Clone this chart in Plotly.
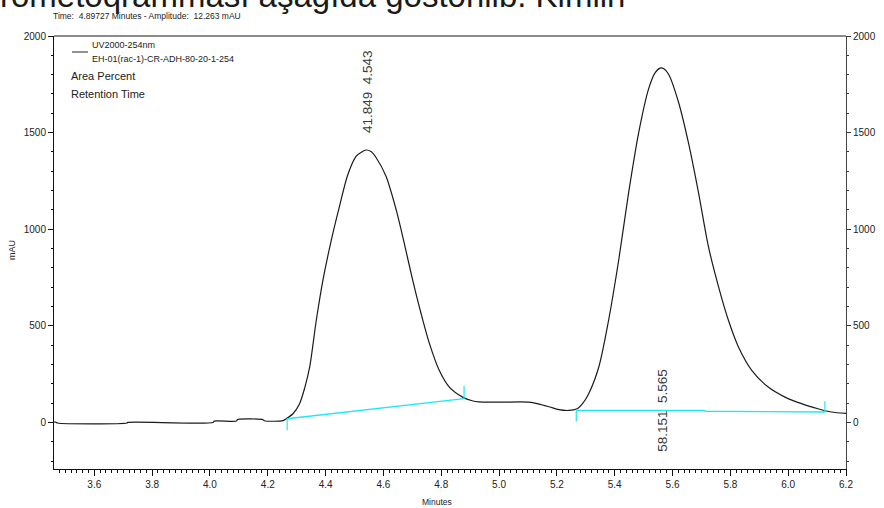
import plotly.graph_objects as go

# ---------------- data ----------------
time_min = [3.461, 3.466, 3.473, 3.713, 3.716, 4.011, 4.015, 4.092, 4.095, 4.184, 4.188, 4.253,
            4.264, 4.287, 4.310, 4.328, 4.345, 4.368, 4.391, 4.420, 4.448, 4.477, 4.506, 4.525,
            4.540, 4.557, 4.575, 4.609, 4.644, 4.672, 4.701, 4.730, 4.759, 4.793, 4.828, 4.874,
            4.907, 4.931, 5.000, 5.103, 5.138, 5.175, 5.207, 5.241, 5.270, 5.290, 5.310, 5.345,
            5.379, 5.414, 5.448, 5.483, 5.517, 5.540, 5.557, 5.570, 5.586, 5.621, 5.655, 5.690,
            5.724, 5.759, 5.793, 5.828, 5.874, 5.931, 5.989, 6.046, 6.103, 6.149, 6.200]
signal_mau = [2, 2, -3, -3, 0, 0, 7, 7, 15, 14, 9, 9,
              19, 45, 97, 180, 287, 530, 738, 945, 1118, 1283, 1378, 1400,
              1410, 1402, 1370, 1274, 1101, 928, 738, 565, 409, 270, 183, 131,
              112, 106, 105, 105, 95, 80, 66, 62, 71, 100, 149, 287,
              530, 842, 1188, 1500, 1725, 1810, 1834, 1830, 1803, 1656, 1448, 1188,
              911, 703, 530, 391, 270, 183, 131, 97, 71, 54, 47]

peak_rt = [4.543, 5.565]
peak_area_pct = [41.849, 58.151]
peak_label_y = [1715, 62]

baseline1_x = [4.267, 4.879]
baseline1_y = [19, 123]
baseline2_x = [5.267, 5.710, 5.713, 6.127]
baseline2_y = [62, 62, 58, 54]

x_ticks = [3.6, 3.8, 4.0, 4.2, 4.4, 4.6, 4.8, 5.0, 5.2, 5.4, 5.6, 5.8, 6.0, 6.2]
y_ticks = [0, 500, 1000, 1500, 2000]

x_range = [3.4606, 6.2]
y_range = [-241, 2000]

# ---------------- layout helpers (pixel -> paper) ----------------
W, H = 884, 508
L, R, T, B = 54, 38, 36, 39
PW, PH = W - L - R, H - T - B


def px(xp):
    return (xp - L) / PW


def py(yp):
    return (H - B - yp) / PH


NARROW = "Liberation Sans Narrow, Arial Narrow, Liberation Sans, sans-serif"
SANS = "Liberation Sans, Arial, sans-serif"
CYAN = "#1fe8f2"

fig = go.Figure()

fig.add_trace(go.Scatter(x=time_min, y=signal_mau, mode="lines",
                         line=dict(color="#1b1b1b", width=1.2, shape="spline", smoothing=0.8),
                         hoverinfo="skip"))

# integration baselines
fig.add_trace(go.Scatter(x=baseline1_x, y=baseline1_y, mode="lines",
                         line=dict(color=CYAN, width=1.3), hoverinfo="skip"))
fig.add_trace(go.Scatter(x=baseline2_x, y=baseline2_y, mode="lines",
                         line=dict(color=CYAN, width=1.3), hoverinfo="skip"))
# start / end markers of the baselines
fig.add_trace(go.Scatter(x=[baseline1_x[0], baseline1_x[0], None, baseline1_x[-1], baseline1_x[-1], None,
                            baseline2_x[0], baseline2_x[0], None, baseline2_x[-1], baseline2_x[-1]],
                         y=[baseline1_y[0], baseline1_y[0] - 60, None, baseline1_y[-1], baseline1_y[-1] + 65, None,
                            baseline2_y[0], baseline2_y[0] - 57, None, baseline2_y[-1], baseline2_y[-1] + 56],
                         mode="lines", line=dict(color=CYAN, width=1.2), hoverinfo="skip"))

# invisible trace for the right axis
fig.add_trace(go.Scatter(x=[time_min[0]], y=[signal_mau[0]], yaxis="y2", mode="lines",
                         line=dict(width=0), opacity=0, hoverinfo="skip"))

tickfont = dict(family=NARROW, size=10, color="#222")

fig.update_layout(
    template="none",
    width=W, height=H,
    margin=dict(l=L, r=R, t=T, b=B, pad=0, autoexpand=False),
    paper_bgcolor="white", plot_bgcolor="white",
    showlegend=False,
    xaxis=dict(range=x_range, tickvals=x_ticks, tickformat=".1f", ticks="outside",
               ticklen=6, tickcolor="#111", tickwidth=1, automargin=False,
               minor=dict(dtick=0.02, tick0=3.6, ticks="outside", ticklen=3, tickcolor="#111",
                          showgrid=False),
               showline=True, linecolor="#111", linewidth=1, showgrid=False, zeroline=False,
               tickfont=tickfont),
    yaxis=dict(range=y_range, tickvals=y_ticks, ticks="outside", ticklen=5, tickcolor="#111",
               automargin=False,
               minor=dict(dtick=100, tick0=0, ticks="outside", ticklen=2, tickcolor="#111",
                          showgrid=False),
               showline=True, linecolor="#111", linewidth=1, showgrid=False, zeroline=False,
               tickfont=tickfont),
    yaxis2=dict(range=y_range, tickvals=y_ticks, overlaying="y", side="right", ticks="outside",
                ticklen=4, tickcolor="#333", automargin=False,
                minor=dict(dtick=100, tick0=0, ticks="outside", ticklen=2, tickcolor="#333",
                           showgrid=False),
                showline=True, linecolor="#444", linewidth=1, showgrid=False, zeroline=False,
                tickfont=tickfont),
)

# top frame line (grey, heavier)
fig.add_shape(type="line", xref="paper", yref="paper", x0=0, x1=1, y0=1, y1=1,
              line=dict(color="#8c8c8c", width=2))

ann = []
# cut-off page text above the chart
ann.append(dict(text="rometoqramması aşağıda göstərilib. Kimlin", x=px(-2), y=py(-4),
                xref="paper", yref="paper", xanchor="left", yanchor="middle", showarrow=False,
                font=dict(family=SANS, size=33, color="#1a1a1a")))
# header
ann.append(dict(text="Time:  4.89727 Minutes - Amplitude:  12.263 mAU", x=px(51), y=py(16),
                xref="paper", yref="paper", xanchor="left", yanchor="middle", showarrow=False,
                font=dict(family=NARROW, size=8.5, color="#222")))
# axis titles
ann.append(dict(text="mAU", x=px(12), y=py(250), xref="paper", yref="paper", textangle=-90,
                xanchor="center", yanchor="middle", showarrow=False,
                font=dict(family=NARROW, size=9, color="#222")))
ann.append(dict(text="Minutes", x=px(437), y=py(502), xref="paper", yref="paper",
                xanchor="center", yanchor="middle", showarrow=False,
                font=dict(family=NARROW, size=8.5, color="#222")))
# legend block
ann.append(dict(text="UV2000-254nm", x=px(90), y=py(45), xref="paper", yref="paper",
                xanchor="left", yanchor="middle", showarrow=False,
                font=dict(family=NARROW, size=9, color="#222")))
ann.append(dict(text="EH-01(rac-1)-CR-ADH-80-20-1-254", x=px(90), y=py(59), xref="paper", yref="paper",
                xanchor="left", yanchor="middle", showarrow=False,
                font=dict(family=NARROW, size=9, color="#222")))
ann.append(dict(text="Area Percent", x=px(69), y=py(76), xref="paper", yref="paper",
                xanchor="left", yanchor="middle", showarrow=False,
                font=dict(family=NARROW, size=11, color="#222")))
ann.append(dict(text="Retention Time", x=px(69), y=py(94), xref="paper", yref="paper",
                xanchor="left", yanchor="middle", showarrow=False,
                font=dict(family=NARROW, size=11, color="#222")))
fig.add_shape(type="line", xref="paper", yref="paper", x0=px(72), x1=px(88), y0=py(52), y1=py(52),
              line=dict(color="#555", width=1.3))

# peak labels
for rt, area, ly in zip(peak_rt, peak_area_pct, peak_label_y):
    ann.append(dict(text=f"{area:.3f}  {rt:.3f}", x=rt, y=ly, xref="x", yref="y",
                    textangle=-90, xanchor="center", yanchor="middle", showarrow=False,
                    font=dict(family=SANS, size=13.5, color="#3a3a3a")))

fig.update_layout(annotations=ann)

fig.write_html("out.html", config={"displayModeBar": False},
               post_script="document.body.style.margin='0';")
